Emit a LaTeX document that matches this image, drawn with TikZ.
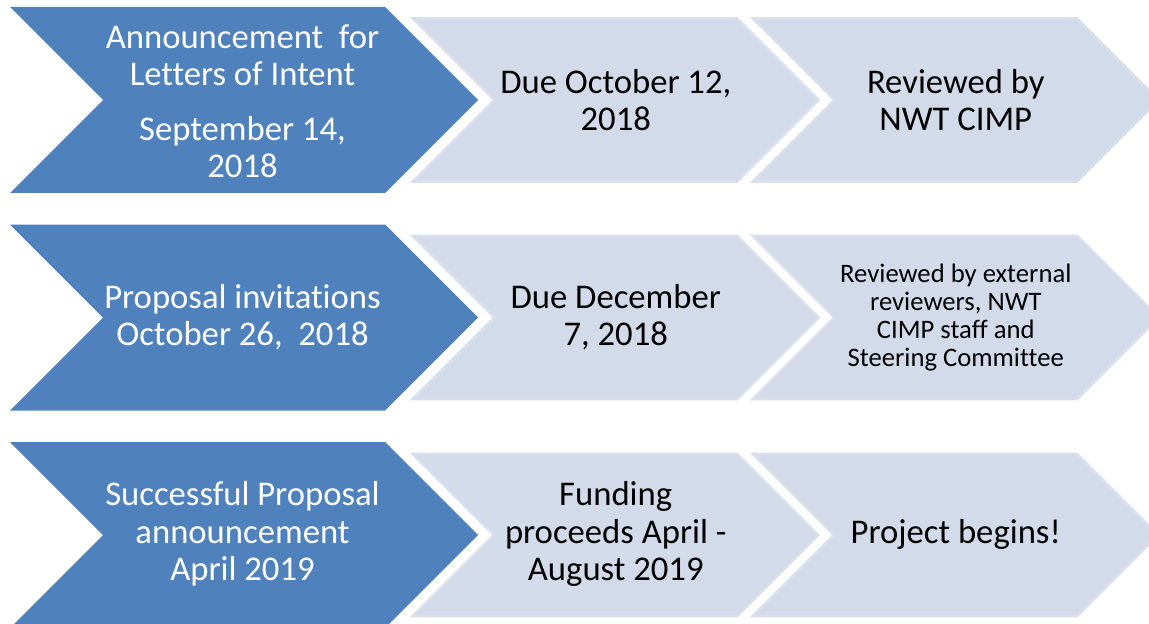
\documentclass[tikz,border=0pt]{standalone}
\usepackage{fontspec}
\setmainfont{Carlito}[Ligatures=NoCommon]
\usepackage{xcolor}
\usetikzlibrary{positioning,calc}
\definecolor{stepblue}{HTML}{4F81BD}
\definecolor{steplight}{HTML}{D3DAE9}
\definecolor{stepedge}{HTML}{DADFEC}

% chevron: style, left x, corner x, centre y, half height
\newcommand{\chev}[5]{%
  \path[#1] (#2,#4-#5) -- (#3,#4-#5) -- (#3+#5,#4) -- (#3,#4+#5) -- (#2,#4+#5) -- (#2+#5,#4) -- cycle;}

\begin{document}
\begin{tikzpicture}[x=0.75pt, y=-0.75pt,
  bluechev/.style={fill=stepblue},
  greychev/.style={fill=steplight, draw=stepedge, line width=2pt, line join=miter},
  bluetext/.style={align=center, text=white, font=\fontsize{26}{28}\selectfont},
  greytext/.style={align=center, text=black, font=\fontsize{26}{28}\selectfont},
  smalltext/.style={align=center, text=black, font=\fontsize{20}{21}\selectfont}]
\clip (0,0) rectangle (1149,624);
\useasboundingbox (0,0) rectangle (1149,624);

% row 1
\chev{bluechev}{10}{385}{100}{93}
\chev{greychev}{413}{737}{100}{81.5}
\chev{greychev}{753}{1077}{100}{81.5}
\node[bluetext] (loi) at (242.5,101) {Announcement\ \ for\\Letters of Intent\\[13pt]September 14,\\2018};
\node[greytext] (loidue) at (615.75,100) {Due October 12,\\2018};
\node[greytext] (loirev) at (955.75,100) {Reviewed by\\NWT CIMP};

% row 2
\chev{bluechev}{10}{385}{317.5}{93}
\chev{greychev}{413}{737}{317.5}{81.5}
\chev{greychev}{753}{1077}{317.5}{81.5}
\node[bluetext] (inv) at (242.5,317.5) {Proposal invitations\\October 26,\ \ 2018};
\node[greytext] (invdue) at (615.75,317.5) {Due December\\7, 2018};
\node[smalltext] (invrev) at (955.75,317.5) {Reviewed by external\\reviewers, NWT\\CIMP staff and\\Steering Committee};

% row 3
\chev{bluechev}{10}{385}{535}{93}
\chev{greychev}{413}{737}{535}{81}
\chev{greychev}{753}{1077}{535}{81}
\node[bluetext] (win) at (242.5,534) {Successful Proposal\\announcement\\April 2019};
\node[greytext] (fund) at (615.75,534) {Funding\\proceeds April -\\August 2019};
\node[greytext] (start) at (955.75,534) {Project begins!};
\end{tikzpicture}
\end{document}
